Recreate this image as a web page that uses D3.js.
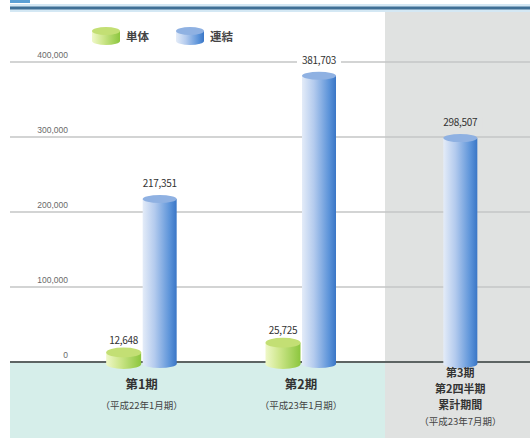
<!DOCTYPE html>
<html><head><meta charset="utf-8">
<script src="https://cdn.jsdelivr.net/npm/d3@7"></script>
<style>
html,body{margin:0;padding:0;background:#fff;}
svg{display:block;font-family:"Noto Sans CJK JP","Noto Sans",sans-serif;}
</style></head>
<body>
<svg id="c" width="530" height="438"></svg>
<script>
const categories = ["第1期", "第2期", "第3期"];
const categorySubLabels = [
  ["(平成22年1月期)"],
  ["(平成23年1月期)"],
  ["第2四半期", "累計期間", "(平成23年7月期)"]
];
const seriesNames = ["単体", "連結"];
const tanValues = [12648, 25725, null];
const renValues = [217351, 381703, 298507];
const yTicks = [0, 100000, 200000, 300000, 400000];
const yTickLabels = ["0", "100,000", "200,000", "300,000", "400,000"];

const W = 530, H = 438;
const svg = d3.select("#c");
const y = d3.scaleLinear().domain([0, 400000]).range([362, 62]);
const x0 = d3.scaleBand().domain(categories).range([62, 540]).padding(0);
const barW = 34;
const fmt = d3.format(",");

const defs = svg.append("defs");
function grad(id, stops) {
  const g = defs.append("linearGradient").attr("id", id).attr("x1", "0%").attr("x2", "100%").attr("y1", "0%").attr("y2", "0%");
  stops.forEach(s => g.append("stop").attr("offset", s[0]).attr("stop-color", s[1]));
}
grad("gBlue", [["0%", "#e4ecf8"], ["35%", "#b4cbee"], ["80%", "#5b93d9"], ["100%", "#3a76c6"]]);
grad("gGreen", [["0%", "#eff8c8"], ["40%", "#cde68a"], ["100%", "#8cc63e"]]);

// background panels
const shadeX = 385;
svg.append("rect").attr("x", 10).attr("y", y(0)).attr("width", shadeX - 10).attr("height", H - y(0)).attr("fill", "#d6eeea");
svg.append("rect").attr("x", shadeX).attr("y", 10).attr("width", W - shadeX).attr("height", H - 10).attr("fill", "#e0e2e1");

// header line
svg.append("rect").attr("x", 10).attr("y", 4).attr("width", W - 10).attr("height", 8).attr("fill", "#d4e8f4");
svg.append("rect").attr("x", 10).attr("y", 6.5).attr("width", W - 10).attr("height", 3).attr("fill", "#3f6f95");
svg.append("rect").attr("x", 10).attr("y", 0).attr("width", 20).attr("height", 3).attr("fill", "#5a9fd4");

// gridlines
const grid = svg.append("g");
yTicks.slice(1).forEach(t => {
  grid.append("line").attr("x1", 10).attr("x2", W).attr("y1", y(t)).attr("y2", y(t))
    .attr("stroke", "#c4c6c6").attr("stroke-width", 1.5);
});
// y labels
const yAxis = d3.axisLeft(y).tickValues(yTicks).tickSize(0).tickFormat((d, i) => yTickLabels[i]);
const ya = svg.append("g").attr("transform", "translate(68,-7)").call(yAxis);
ya.select(".domain").remove();
ya.selectAll("text").attr("fill", "#6a6a6a").attr("font-size", 8.5).attr("x", 0).attr("dy", "0.32em");

// axis line
svg.append("line").attr("x1", 10).attr("x2", W).attr("y1", y(0)).attr("y2", y(0)).attr("stroke", "#5d6463").attr("stroke-width", 2);

// cylinder drawing
function cylinder(g, cx, top, bottom, w, fillId, topFill, ry) {
  g.append("rect").attr("x", cx - w / 2).attr("y", top).attr("width", w).attr("height", Math.max(0, bottom - top)).attr("fill", `url(#${fillId})`);
  g.append("ellipse").attr("cx", cx).attr("cy", bottom).attr("rx", w / 2).attr("ry", ry).attr("fill", `url(#${fillId})`);
  g.append("ellipse").attr("cx", cx).attr("cy", top).attr("rx", w / 2).attr("ry", ry).attr("fill", topFill);
}

const labelBg = svg.append("g");
const bars = svg.append("g");
const labels = svg.append("g");
categories.forEach((c, i) => {
  const present = [];
  if (tanValues[i] != null) present.push({ s: 0, v: tanValues[i] });
  if (renValues[i] != null) present.push({ s: 1, v: renValues[i] });
  const x1 = d3.scaleBand().domain(present.map(p => p.s)).range([0, present.length * 36]);
  const center = x0(c) + x0.bandwidth() / 2;
  const offset = center - (present.length * 36) / 2;
  present.forEach(p => {
    const cx = offset + x1(p.s) + x1.bandwidth() / 2;
    const top = y(p.v), bottom = y(0) + 2;
    if (p.s === 0) cylinder(bars, cx, top, bottom, 35, "gGreen", "#c3df74", 5);
    else cylinder(bars, cx, top, bottom, barW, "gBlue", "#8fb1e2", 4);
    const ly = top - (p.s === 0 ? 9 : 12);
    const bg = cx > shadeX ? "#e0e2e1" : "#ffffff";
    const txt = fmt(p.v);
    labelBg.append("rect").attr("x", cx - 22).attr("y", ly - 9).attr("width", 44).attr("height", 12).attr("fill", bg);
    labels.append("text").attr("x", cx).attr("y", ly).attr("text-anchor", "middle")
      .attr("font-size", 10).attr("fill", "#333").attr("letter-spacing", "-0.3").text(txt);
  });
  // category labels
  const lines = [c].concat(categorySubLabels[i]);
  const startY = i === 2 ? 377 : 389;
  const lh = i === 2 ? 16 : 20;
  const fs = i === 2 ? 11 : 12.5;
  lines.forEach((l, k) => {
    const isParen = l.startsWith("(");
    labels.append("text").attr("x", center).attr("y", startY + k * lh).attr("text-anchor", "middle")
      .attr("font-size", isParen ? 9.5 : fs).attr("font-weight", isParen ? "normal" : "bold")
      .attr("fill", isParen ? "#444" : "#333").text(isParen ? "（" + l.slice(1, -1) + "）" : l);
  });
});

// legend
const legend = svg.append("g");
const legendItems = [
  { name: seriesNames[0], x: 92, fill: "gGreen", top: "#c3df74" },
  { name: seriesNames[1], x: 176, fill: "gBlue", top: "#8fb1e2" }
];
legendItems.forEach(li => {
  cylinder(legend, li.x + 14, 31, 41, 28, li.fill, li.top, 4);
  legend.append("text").attr("x", li.x + 34).attr("y", 41).attr("font-size", 11.5).attr("font-weight", "bold").attr("fill", "#444").text(li.name);
});
</script>
</body></html>
